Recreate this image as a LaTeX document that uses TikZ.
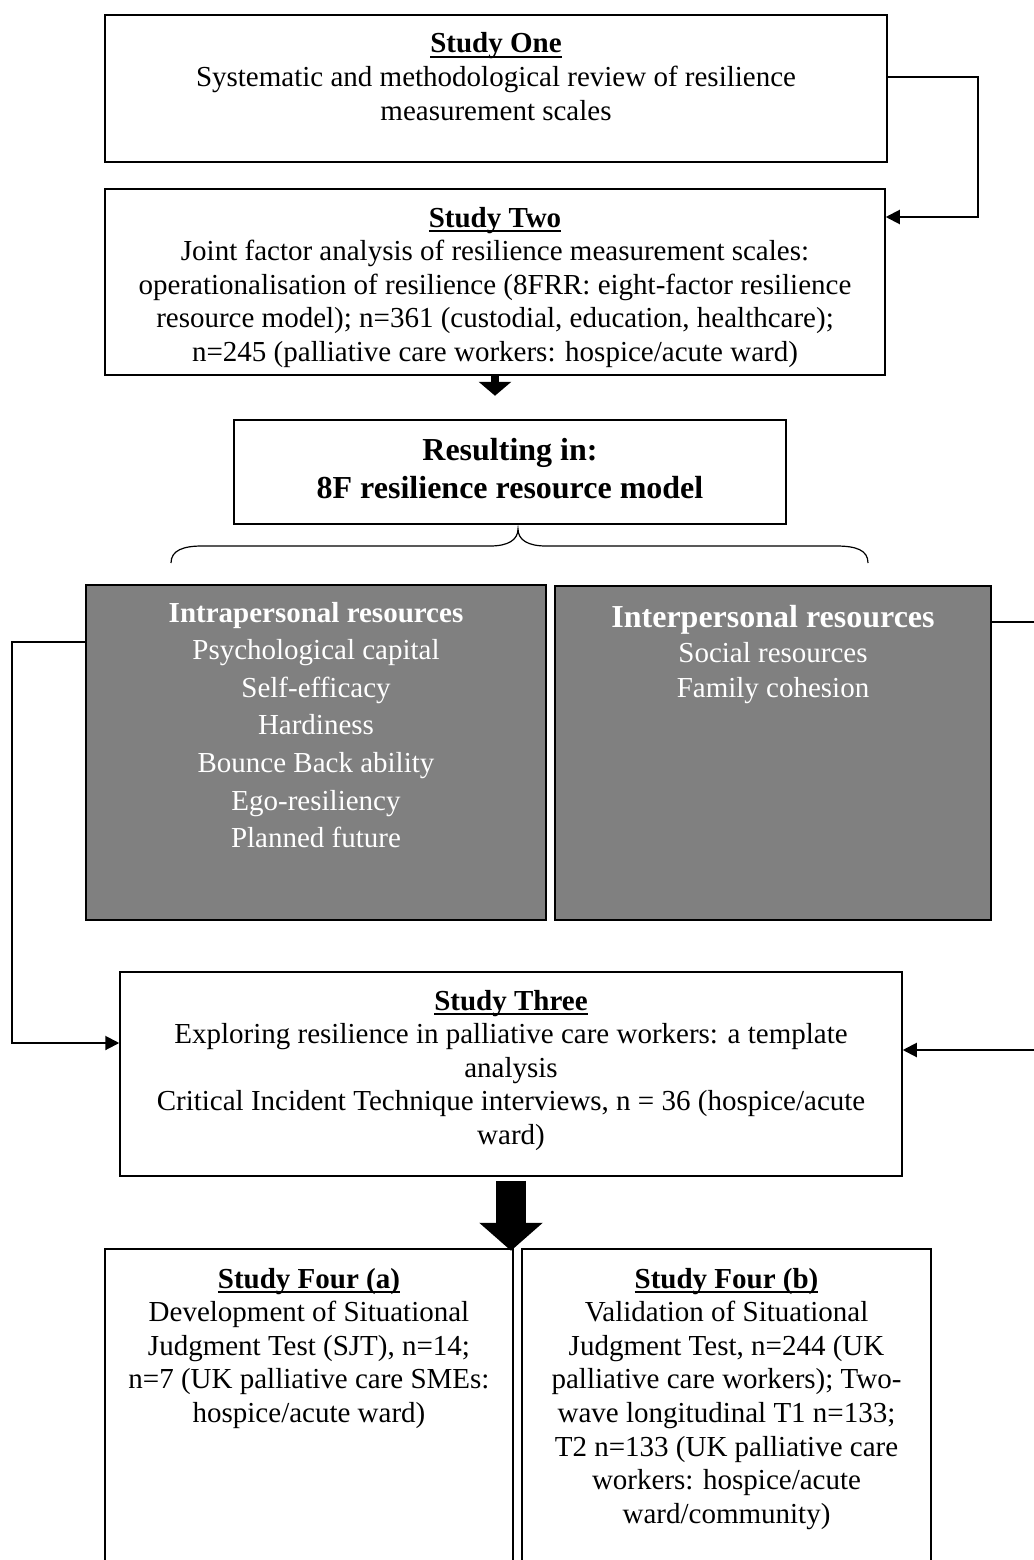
\documentclass[tikz,border=0pt]{standalone}
\usepackage{fontspec}
\setmainfont{Liberation Serif}
\usetikzlibrary{arrows.meta}

\definecolor{resgray}{RGB}{128,128,128}

% underlined bold heading of a study box
\newcommand{\studyhead}[1]{\setbox0\hbox{\textbf{#1}}\rlap{\rule[-5pt]{\wd0}{2.2pt}}\box0}
% text set from the top of a box of fixed size
\newcommand{\boxtext}[4][38pt]{\parbox[t][#3][t]{#2}{\centering\rule{0pt}{#1}#4}}

\tikzset{
  studybox/.style={draw, line width=1.5pt, inner sep=0pt, font=\fontsize{29}{33.6}\selectfont},
  resbox/.style={studybox, fill=resgray, text=white},
  conn/.style={line width=2pt, -{Triangle[length=14pt,width=14pt]}},
}

\begin{document}
\begin{tikzpicture}[x=1pt,y=-1pt]
	\path[use as bounding box, fill=white] (0,0) rectangle (1033,1560);
	\node[studybox] (one) at (496,88.5) {\boxtext{782pt}{147pt}{\studyhead{Study One}\\
		Systematic and methodological review of resilience\\ measurement scales}};
	\node[studybox] (two) at (495,282) {\boxtext{780pt}{186pt}{\studyhead{Study Two}\\
		Joint factor analysis of resilience measurement scales:\\
		operationalisation of resilience (8FRR: eight-factor resilience\\
		resource model); n=361 (custodial, education, healthcare);\\
		n=245 (palliative care workers: hospice/acute ward)}};
	\node[studybox, font=\fontsize{32}{38}\selectfont\bfseries] (result) at (510,472)
		{\boxtext[40pt]{552pt}{104pt}{Resulting in:\\ 8F resilience resource model}};
	\node[resbox, font=\fontsize{29}{37.6}\selectfont] (intra) at (316,752.5) {\boxtext[37pt]{460pt}{335pt}{\textbf{Intrapersonal resources}\\
		Psychological capital\\ Self-efficacy\\ Hardiness\\ Bounce Back ability\\ Ego-resiliency\\ Planned future}};
	\node[resbox, font=\fontsize{29}{35}\selectfont] (inter) at (773,753) {\boxtext[41pt]{436pt}{334pt}{{\fontsize{32}{35}\selectfont\textbf{Interpersonal resources}}\\
		Social resources\\ Family cohesion}};
	\node[studybox] (three) at (511,1074) {\boxtext{782pt}{204pt}{\studyhead{Study Three}\\
		Exploring resilience in palliative care workers: a template\\ analysis\\
		Critical Incident Technique interviews, n = 36 (hospice/acute\\ ward)}};
	\node[studybox] (foura) at (309,1414.5) {\boxtext[39pt]{408pt}{331pt}{\studyhead{Study Four (a)}\\
		Development of Situational\\ Judgment Test (SJT), n=14;\\
		n=7 (UK palliative care SMEs:\\ hospice/acute ward)}};
	\node[studybox] (fourb) at (726.5,1414.5) {\boxtext[39pt]{409pt}{331pt}{\studyhead{Study Four (b)}\\
		Validation of Situational\\ Judgment Test, n=244 (UK\\
		palliative care workers); Two-\\ wave longitudinal T1 n=133;\\
		T2 n=133 (UK palliative care\\ workers: hospice/acute\\ ward/community)}};
	% connectors
	\draw[conn] ([yshift=11.5pt]one.east) -- ++(90,0) |- ([yshift=65pt]two.east);
	\draw[line width=8pt, -{Triangle[length=14pt,width=32pt]}] (two.south) -- ++(0,20);
	\draw[line width=1.2pt] (171,563) .. controls (171,550) and (184,546) .. (202,546) -- (490,546)
		.. controls (508,546) and (518,540) .. (518,529)
		.. controls (518,540) and (528,546) .. (546,546) -- (836,546)
		.. controls (856,546) and (868,550) .. (868,563);
	\draw[conn] ([yshift=110.5pt]intra.west) -- ++(-73,0) |- ([yshift=31pt]three.west);
	\draw[conn] ([yshift=131pt]inter.east) -- ++(49,0) |- ([yshift=24pt]three.east);
	\draw[line width=30pt, -{Triangle[length=28pt,width=62pt]}] ([yshift=-4pt]three.south) -- ++(0,70);
\end{tikzpicture}
\end{document}
